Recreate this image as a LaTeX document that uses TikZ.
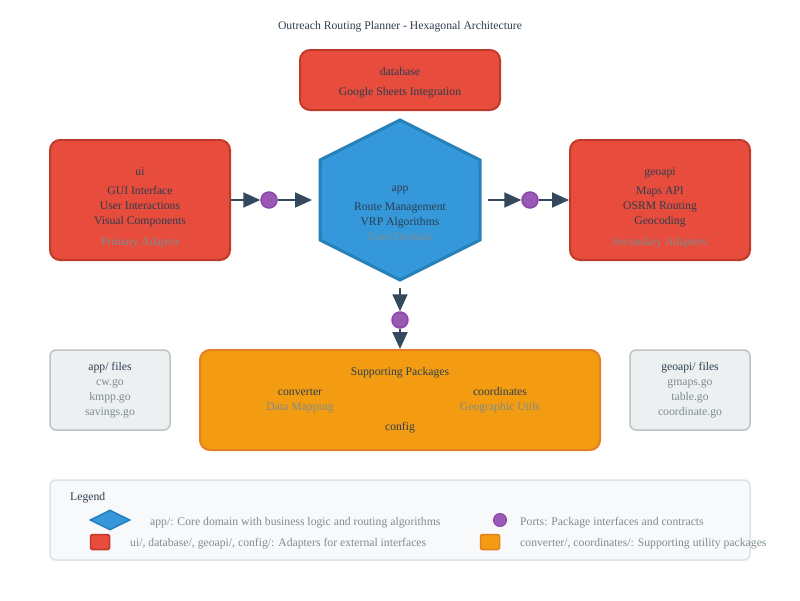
\documentclass[tikz,border=0pt]{standalone}
\usepackage{fontspec}
\setmainfont{Liberation Serif}
\usetikzlibrary{arrows.meta,shapes.geometric}
\definecolor{ink}{HTML}{2C3E50}
\definecolor{muted}{HTML}{7F8C8D}
\definecolor{wire}{HTML}{34495E}
\definecolor{adapter}{HTML}{E74C3C}
\definecolor{adapterline}{HTML}{C0392B}
\definecolor{core}{HTML}{3498DB}
\definecolor{coreline}{HTML}{2980B9}
\definecolor{port}{HTML}{9B59B6}
\definecolor{portline}{HTML}{8E44AD}
\definecolor{support}{HTML}{F39C12}
\definecolor{supportline}{HTML}{E67E22}
\definecolor{files}{HTML}{ECF0F1}
\definecolor{filesline}{HTML}{BDC3C7}
\definecolor{legendbg}{HTML}{F8F9FA}
\definecolor{legendline}{HTML}{DEE2E6}
\begin{document}
\begin{tikzpicture}[x=1pt,y=-1pt,
  every node/.style={font=\fontsize{11.7}{15}\selectfont,text=ink,inner sep=0pt},
  adapterbox/.style={draw=adapterline,fill=adapter,line width=2pt,rounded corners=10pt},
  supportbox/.style={draw=supportline,fill=support,line width=2pt,rounded corners=10pt},
  filebox/.style={draw=filesline,fill=files,line width=1.5pt,rounded corners=6pt},
  portdot/.style={circle,draw=portline,fill=port,line width=1.5pt,minimum size=16pt},
  flow/.style={draw=wire,line width=2pt,-{Triangle[length=17pt,width=15pt]}},
  note/.style={text=muted,anchor=west}]
\useasboundingbox (0,0) rectangle (800,600);

\node (title) at (400,27) {Outreach Routing Planner - Hexagonal Architecture};

\node[adapterbox,minimum width=200pt,minimum height=60pt]  (database) at (400,80)  {};
\node[adapterbox,minimum width=180pt,minimum height=120pt] (ui)       at (140,200) {};
\node[adapterbox,minimum width=180pt,minimum height=120pt] (geoapi)   at (660,200) {};
\node[align=center] (databasetext) at (400,83)  {database\\[5pt]Google Sheets Integration};
\node[align=center] (uitext)       at (140,208) {ui\\[4pt]GUI Interface\\User Interactions\\Visual Components\\[6pt]\textcolor{muted}{Primary Adapter}};
\node[align=center] (geoapitext)   at (660,208) {geoapi\\[4pt]Maps API\\OSRM Routing\\Geocoding\\[6pt]\textcolor{muted}{Secondary Adapters}};

\draw[draw=coreline,fill=core,line width=3pt] (400,120) -- (480,160) -- (480,240) -- (400,280) -- (320,240) -- (320,160) -- cycle;
\node[align=center] (app) at (400,213) {app\\[4pt]Route Management\\VRP Algorithms\\\textcolor{muted}{Core Domain}};
\coordinate (appW) at (312,200);
\coordinate (appE) at (488,200);
\coordinate (appS) at (400,288);

\node[portdot] (uiport)  at (269,200) {};
\node[portdot] (geoport) at (530,200) {};
\node[portdot] (support) at (400,320) {};

\draw[flow] (ui)      -- (uiport);
\draw[flow] (uiport)  -- (appW);
\draw[flow] (appE)    -- (geoport);
\draw[flow] (geoport) -- (geoapi);

\node[supportbox,minimum width=400pt,minimum height=100pt] (packages) at (400,400) {};
\draw[flow] (appS)    -- (support);
\draw[flow] (support) -- (packages);
\node (packagestitle) at (400,373) {Supporting Packages};
\node[align=center] (converter)   at (300,400.5) {converter\\\textcolor{muted}{Data Mapping}};
\node[align=center] (coordinates) at (500,400.5) {coordinates\\\textcolor{muted}{Geographic Utils}};
\node (config) at (400,428) {config};

\node[filebox,minimum width=120pt,minimum height=80pt] (appfiles) at (110,390) {};
\node[filebox,minimum width=120pt,minimum height=80pt] (geofiles) at (690,390) {};
\node[align=center] (appfilestext) at (110,390.5) {app/ files\\\textcolor{muted}{cw.go}\\\textcolor{muted}{kmpp.go}\\\textcolor{muted}{savings.go}};
\node[align=center] (geofilestext) at (690,390.5) {geoapi/ files\\\textcolor{muted}{gmaps.go}\\\textcolor{muted}{table.go}\\\textcolor{muted}{coordinate.go}};

\node[draw=legendline,fill=legendbg,line width=1.5pt,rounded corners=6pt,minimum width=700pt,minimum height=80pt] (legend) at (400,520) {};
\node[anchor=west] (legendtitle) at (70,498) {Legend};
\node[diamond,draw=coreline,fill=core,line width=1.5pt,minimum width=40pt,minimum height=20pt] (keycore) at (110,520) {};
\node[note] (keycoretext) at (150,523) {app/: Core domain with business logic and routing algorithms};
\node[circle,draw=portline,fill=port,line width=1pt,minimum size=13pt] (keyport) at (500,520) {};
\node[note] (keyporttext) at (520,523) {Ports: Package interfaces and contracts};
\node[draw=adapterline,fill=adapter,line width=1.5pt,rounded corners=2pt,minimum width=19pt,minimum height=15pt] (keyadapter) at (100,542) {};
\node[note] (keyadaptertext) at (130,544) {ui/, database/, geoapi/, config/: Adapters for external interfaces};
\node[draw=supportline,fill=support,line width=1.5pt,rounded corners=2pt,minimum width=19pt,minimum height=15pt] (keysupport) at (490,542) {};
\node[note] (keysupporttext) at (520,544) {converter/, coordinates/: Supporting utility packages};
\end{tikzpicture}
\end{document}
